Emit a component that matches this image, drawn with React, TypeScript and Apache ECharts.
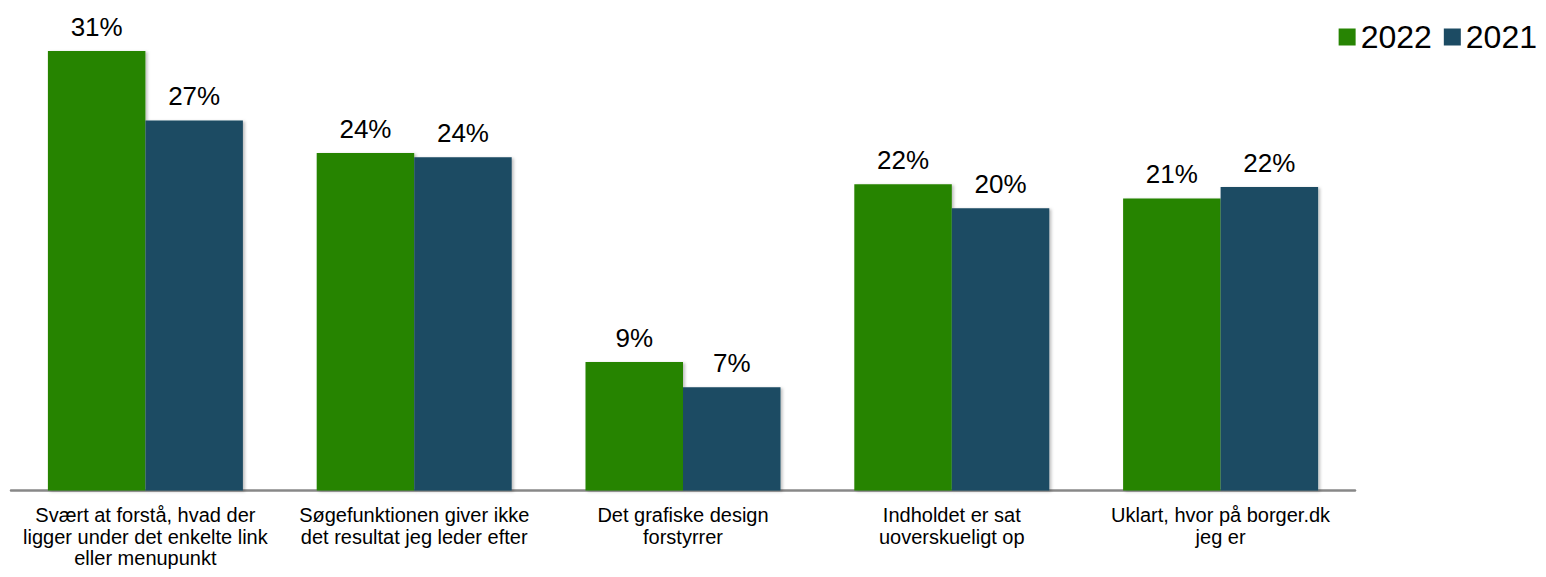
import React, { useEffect, useRef } from "react";
import * as echarts from "echarts";

const categories = [
  "Svært at forstå, hvad der\nligger under det enkelte link\neller menupunkt",
  "Søgefunktionen giver ikke\ndet resultat jeg leder efter",
  "Det grafiske design\nforstyrrer",
  "Indholdet er sat\nuoverskueligt op",
  "Uklart, hvor på borger.dk\njeg er",
];
const series2022 = [31.0, 23.8, 9.06, 21.6, 20.6];
const series2021 = [26.1, 23.5, 7.28, 19.9, 21.4];
const labels2022 = ["31%", "24%", "9%", "22%", "21%"];
const labels2021 = ["27%", "24%", "7%", "20%", "22%"];

export default function App() {
  const ref = useRef<HTMLDivElement>(null);
  useEffect(() => {
    document.body.style.margin = "0";
    if (!ref.current) return;
    const chart = echarts.init(ref.current, undefined, { renderer: "svg" });
    const font = "Arial, 'Liberation Sans', sans-serif";
    const barStyle = (color: string) => ({
      color,
      shadowColor: "rgba(0,0,0,0.25)",
      shadowBlur: 3,
      shadowOffsetX: 2,
      shadowOffsetY: 1,
    });
    const label = (arr: string[]) => ({
      show: true,
      position: "top",
      distance: 11,
      fontSize: 26,
      fontFamily: font,
      color: "#000",
      formatter: (p: any) => arr[p.dataIndex],
    });
    chart.setOption({
      animation: false,
      legend: {
        right: 4,
        top: 16,
        itemWidth: 17,
        itemHeight: 17,
        itemGap: 12,
        icon: "rect",
        textStyle: { fontSize: 32, fontFamily: font, color: "#000" },
        data: ["2022", "2021"],
      },
      grid: { left: 11, right: 191, top: 8.4, bottom: 86.5, containLabel: false },
      xAxis: {
        type: "category",
        data: categories,
        axisLine: { lineStyle: { color: "#888", width: 2.5 } },
        axisTick: { show: false },
        axisLabel: {
          interval: 0,
          margin: 14,
          color: "#000",
          fontSize: 20,
          lineHeight: 21.5,
          fontFamily: font,
        },
      },
      yAxis: {
        type: "value",
        min: 0,
        max: 34,
        show: false,
        splitLine: { show: false },
      },
      series: [
        {
          name: "2022",
          type: "bar",
          data: series2022,
          barWidth: 97.5,
          barGap: "0%",
          itemStyle: barStyle("#278403"),
          label: label(labels2022),
        },
        {
          name: "2021",
          type: "bar",
          data: series2021,
          barWidth: 97.5,
          barGap: "0%",
          itemStyle: barStyle("#1c4b63"),
          label: label(labels2021),
        },
      ],
    });
    return () => chart.dispose();
  }, []);
  return <div ref={ref} style={{ width: 1546, height: 577 }} />;
}
